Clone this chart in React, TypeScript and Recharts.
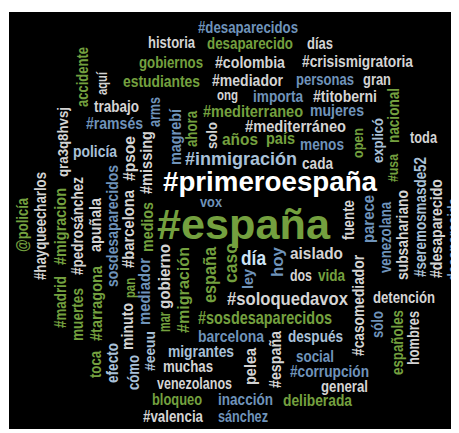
import React from "react";
import { ScatterChart, Scatter, XAxis, YAxis } from "recharts";

// word cloud terms
const words = [
  "#desaparecidos","historia","desaparecido","días","gobiernos","#colombia","#crisismigratoria","estudiantes","#mediador","personas",
  "gran","trabajo","ong","importa","#titoberni","#ramsés","#mediterraneo","mujeres","#mediterráneo","años",
  "país","menos","toda","policía","#inmigración","cada","#primeroespaña","vox","#españa","día",
  "aislado","dos","vida","#soloquedavox","detención","#sosdesaparecidos","barcelona","después","migrantes","social",
  "muchas","#corrupción","venezolanos","general","bloqueo","inacción","deliberada","#valencia","sánchez",
  "accidente","aquí","arms","qra3q8hvsj","magrebí","ahora","solo","nacional","open","explicó",
  "#psoe","#missing","@policía","#hayqueecharlos","#migracion","#pedrosánchez","apuñala","sosdesaparecidos","#barcelona","medios",
  "gobierno","mar","#migración","españa","caso","hoy","ley","fuente","parece","venezolana",
  "subsahariano","#usa","#seremosmasde52","#desaparecido","desaparecida","#casomediador","#madrid","muertes","#tarragona","toca",
  "efecto","minuto","cómo","pan","mediador","#eeuu","#españa ","pelea","sólo","españoles","hombres",
];
// word centre, horizontal
const xs = [
  248,171.5,250,320,171,250,357.5,161.5,247.5,325,
  377,116.5,227.5,278,345,114.5,253,337,295.5,240,
  280.5,322,423.5,95,241,317.5,270,211,243.5,253.5,
  316.5,301,331.5,287.5,404,265,231,315.5,201,315,
  188,329.5,194.5,344.5,177,245.5,317.5,173,243,
  82,101,154,62,175,191,211,393,357,377,
  129,146,22,40,60,77,95,112,128,147,
  164,164,183,210,230,277,247,348,368,385,
  402,392,420,436,453,358,60,77,96,95,
  112,127,133,129,144,149,275,250,377,397,413,
];
// word centre, vertical
const ys = [
  27,42,43,43,62,62,61,81,80,79,
  79,106,94,96,96,123,111,110,126,139,
  138,144,137,151,158,163,182,201,224,257,
  253,275,275,298,297,318,336,336,351,356,
  366,371,383,386,399,399,400,416,416,
  77,83.5,112,142,137,129,135.5,115.5,143,140.5,
  158.5,162.5,225,226,226.5,226,225,226,229,227,
  276.5,322,290,275,263,262,279,220,219,237.5,
  235,168,217,228.5,239.5,305.5,302,314.5,303.5,364.5,
  363,326.5,372.5,288,291.5,351,359.5,366.5,324.5,342.5,338,
];
// word weight (frequency rank)
const weights = [
  16,16,16,16,16,16,16,16,16,16,
  16,16,15,16,16,16,16,16,17,17,
  17,16,16,16,19,16,27,15,43,21,
  17,17,17,19,16,18,17,16,16,16,
  16,16,16,16,16,16,16,16,16,
  16,15,16,15,16,16,15,16,15,15,
  16,16,16,16,16,16,16,16,16,16,
  17,16,17,18,19,17,15,16,16,16,
  16,15,16,16,16,16,16,16,16,16,
  16,16,16,15,16,15,16,16,16,16,16,
];
// word span along its reading direction
const spans = [
  100,47,86,26,64,70,111,77,71,58,
  28,45,21,50,64,57,100,54,101,36,
  29,44,27,44,112,31,214,22,173,25,
  53,22,27,121,62,134,66,55,66,38,
  50,79,75,47,50,55,69,60,50,
  60,23,30,70,56,36,27,55,30,45,
  45,63,54,108,77,98,54,122,78,50,
  65,20,86,56,40,30,20,40,48,71,
  90,28,120,99,83,101,52,53,75,27,
  40,47,35,20,67,40,57,37,27,65,54,
];
// 1 = vertical
const vertical = [
  0,0,0,0,0,0,0,0,0,0,
  0,0,0,0,0,0,0,0,0,0,
  0,0,0,0,0,0,0,0,0,0,
  0,0,0,0,0,0,0,0,0,0,
  0,0,0,0,0,0,0,0,0,
  1,1,1,1,1,1,1,1,1,1,
  1,1,1,1,1,1,1,1,1,1,
  1,1,1,1,1,1,1,1,1,1,
  1,1,1,1,1,1,1,1,1,1,
  1,1,1,1,1,1,1,1,1,1,1,
];
// colour group: g=gray, n=green, b=blue, l=light blue, p=pale blue, w=white
const groups = [
  "b","g","n","g","n","g","g","n","g","b",
  "g","g","g","b","g","b","n","b","g","n",
  "n","b","g","l","l","g","w","b","n","p",
  "g","g","n","g","g","n","b","l","l","b",
  "g","b","g","g","n","b","n","g","b",
  "n","g","b","g","b","n","g","n","n","l",
  "g","g","n","g","n","g","g","b","g","n",
  "g","n","n","n","n","b","b","g","b","b",
  "g","n","l","g","b","g","n","n","n","n",
  "l","g","l","n","b","l","g","g","b","n","g",
];

const palette: Record<string, string> = {
  g: "#d4d4d4",
  n: "#74a03f",
  b: "#6f93ba",
  l: "#a9c1d8",
  p: "#cde5f7",
  w: "#ffffff",
};

const data = words.map((w, i) => ({
  word: w.trim(),
  x: xs[i],
  y: ys[i],
  weight: weights[i],
  span: spans[i],
  vertical: vertical[i],
  group: groups[i],
}));

const WordShape = (props: any) => {
  const { cx, cy, payload } = props;
  if (cx == null || cy == null) return null;
  const transform = payload.vertical ? `rotate(-90 ${cx} ${cy})` : undefined;
  return (
    <text
      x={cx}
      y={cy}
      transform={transform}
      textAnchor="middle"
      dominantBaseline="central"
      fontFamily="'Liberation Sans', Arial, sans-serif"
      fontWeight="bold"
      fontSize={payload.weight}
      textLength={payload.span}
      lengthAdjust="spacingAndGlyphs"
      fill={palette[payload.group]}
    >
      {payload.word}
    </text>
  );
};

export default function App() {
  return (
    <div
      style={{
        position: "relative",
        left: 1,
        top: 4,
        width: 450,
        height: 421,
        background: "#000",
      }}
    >
      <ScatterChart width={450} height={421} margin={{ top: 0, right: 0, bottom: 0, left: 0 }}>
        <XAxis type="number" dataKey="x" domain={[9, 459]} allowDataOverflow hide />
        <YAxis type="number" dataKey="y" domain={[12, 433]} reversed allowDataOverflow hide />
        <Scatter data={data} isAnimationActive={false} shape={WordShape} />
      </ScatterChart>
    </div>
  );
}
